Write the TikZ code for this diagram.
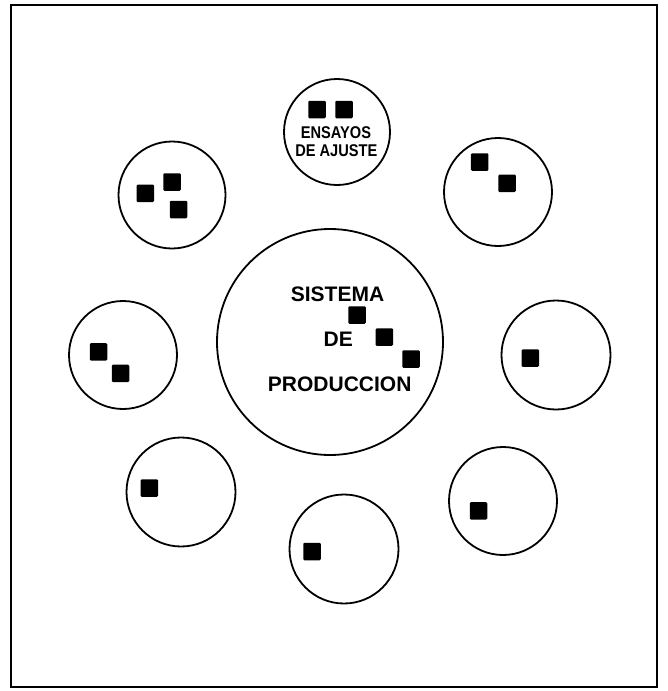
\documentclass[tikz,border=0pt]{standalone}
\usepackage{fontspec}
\setmainfont{Liberation Sans}
\begin{document}
\begin{tikzpicture}[x=1pt,y=-1pt,
  ring/.style={draw=black,line width=1.8pt,circle,inner sep=0pt,minimum size=#1},
  blk/.style={fill=black,rounded corners=1.2pt,minimum size=17.5pt,inner sep=0pt,draw=none},
  bigtxt/.style={font=\bfseries\fontsize{21}{21}\selectfont,anchor=base,inner sep=0pt},
  smalltxt/.style={font=\bfseries\fontsize{17}{17}\selectfont,anchor=base,inner sep=0pt,xscale=0.86}]
\useasboundingbox (0,0) rectangle (667,691);
\draw[line width=2.4pt] (11,5) rectangle (657,687);
% circles
\node[ring=226pt] (c) at (330,342) {};
\node[ring=106pt] (t) at (337,132) {};
\node[ring=107pt] (ul) at (172,195) {};
\node[ring=108pt] (ur) at (498,192) {};
\node[ring=108pt] (l) at (123,355) {};
\node[ring=109pt] (r) at (556,355) {};
\node[ring=109pt] (ll) at (181,492) {};
\node[ring=108pt] (lr) at (503,501) {};
\node[ring=109pt] (b) at (344,549) {};
% squares
\node[blk] (t1) at (317,109.5) {};
\node[blk] (t2) at (344,109.5) {};
\node[blk] (ul1) at (145.3,193.3) {};
\node[blk] (ul2) at (172,182) {};
\node[blk] (ul3) at (178.5,209.5) {};
\node[blk] (ur1) at (479.7,162) {};
\node[blk] (ur2) at (507,183.3) {};
\node[blk] (l1) at (98.5,351.8) {};
\node[blk] (l2) at (120.5,373.3) {};
\node[blk] (r1) at (530.3,358) {};
\node[blk] (ll1) at (149.3,488) {};
\node[blk] (lr1) at (478.5,510.8) {};
\node[blk] (b1) at (312,551.5) {};
\node[blk] (c1) at (357,315) {};
\node[blk] (c2) at (384.3,337) {};
\node[blk] (c3) at (411,359) {};
% texts
\node[bigtxt] (s1) at (337.5,301.7) {SISTEMA};
\node[bigtxt] (s2) at (338.3,346.7) {DE};
\node[bigtxt] (s3) at (339.7,391.7) {PRODUCCION};
\node[smalltxt] (e1) at (336,138.3) {ENSAYOS};
\node[smalltxt] (e2) at (336.3,156) {DE AJUSTE};
\end{tikzpicture}
\end{document}
